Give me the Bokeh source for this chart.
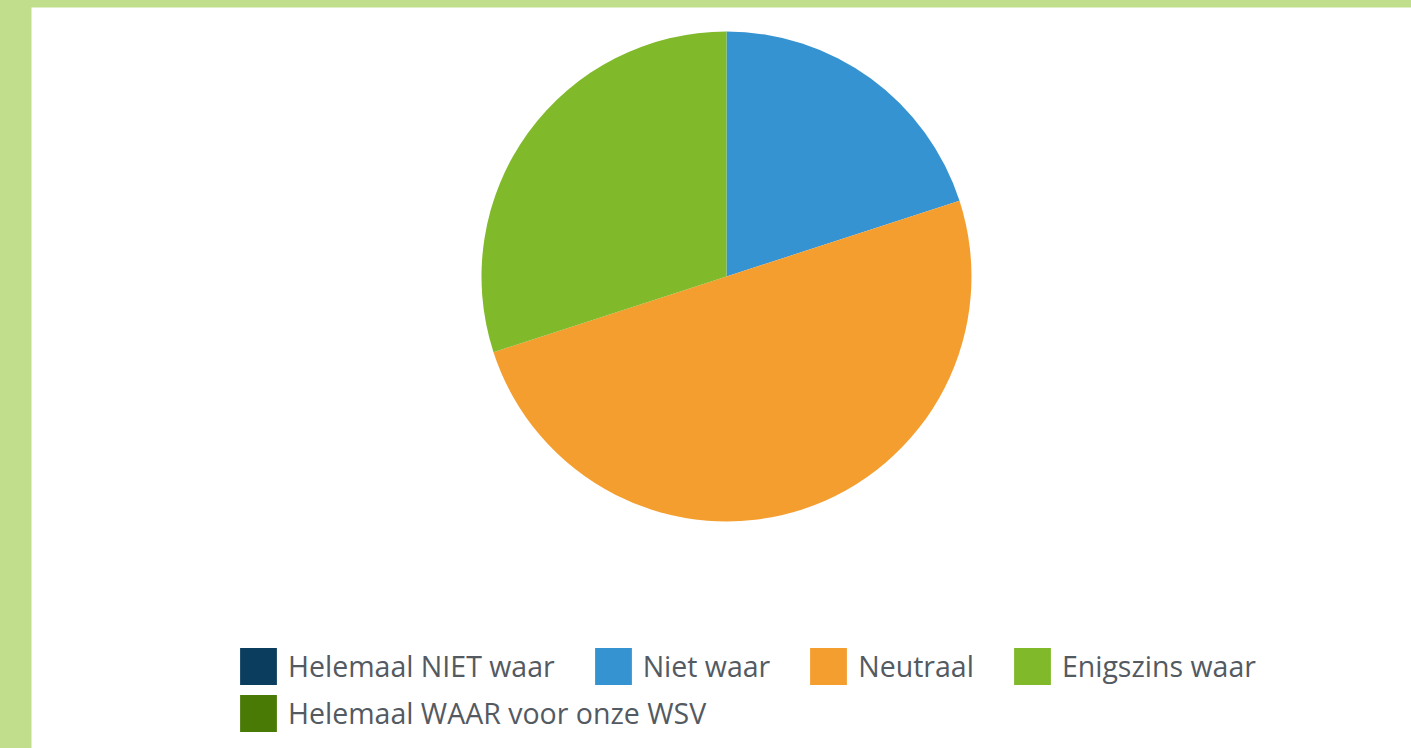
import numpy as np
from bokeh.plotting import figure
from bokeh.models import ColumnDataSource, Legend, LegendItem, Range1d, GlobalInlineStyleSheet
from bokeh.embed import file_html
from bokeh.resources import INLINE

categories = ["Helemaal NIET waar", "Niet waar", "Neutraal", "Enigszins waar", "Helemaal WAAR voor onze WSV"]
values = [0, 2, 5, 3, 0]
colors = ["#0b3d5f", "#3593d1", "#f49e2f", "#80b92a", "#4a7a06"]

vals = np.array(values, dtype=float)
ang = vals / vals.sum() * 2 * np.pi
cum = np.cumsum(ang)
prev = cum - ang
start = np.pi / 2 - prev
end = np.pi / 2 - cum

src = ColumnDataSource(dict(cat=categories, val=values, start=start, end=end, color=colors))

W, H = 1411, 748
LB, TB = 31, 7
fw, fh = W - LB, H - TB
cx, cy = 695, 269  # pie centre within frame (from left, from top)

p = figure(width=W, height=H, output_backend="svg", toolbar_location=None,
           x_range=Range1d(-cx, fw - cx), y_range=Range1d(-(fh - cy), cy),
           min_border=0, min_border_left=LB, min_border_top=TB, outline_line_color=None,
           border_fill_color="#c0de8b", background_fill_color="white")
p.axis.visible = False
p.grid.visible = False

nz = [i for i, v in enumerate(values) if v > 0]
src_nz = ColumnDataSource({k: [src.data[k][i] for i in nz] for k in src.data})
r = p.wedge(x=0, y=0, radius=245, start_angle="start", end_angle="end", direction="clock",
            fill_color="color", line_color=None, source=src_nz)
# legend swatches from all categories (zero-size wedges do not render)
r_all = p.wedge(x=0, y=0, radius=0, start_angle="start", end_angle="start", direction="clock",
                fill_color="color", line_color=None, source=src)

def mk_legend(idx, loc):
    items = [LegendItem(label=categories[i], renderers=[r_all], index=i) for i in idx]
    lg = Legend(items=items, orientation="horizontal", location=loc,
                glyph_width=46, glyph_height=46, label_height=46, label_standoff=7,
                spacing=35, padding=0, margin=0, border_line_color=None,
                background_fill_alpha=0, label_text_font="Open Sans",
                label_text_font_size="28.5px", label_text_color="#545a61")
    p.add_layout(lg, "center")

mk_legend([0, 1, 2, 3], (204, 59))
mk_legend([4], (204, 12))

p.stylesheets = [GlobalInlineStyleSheet(css="body { background-color: #c0de8b; }")]

open("out.html", "w").write(file_html(p, INLINE))
